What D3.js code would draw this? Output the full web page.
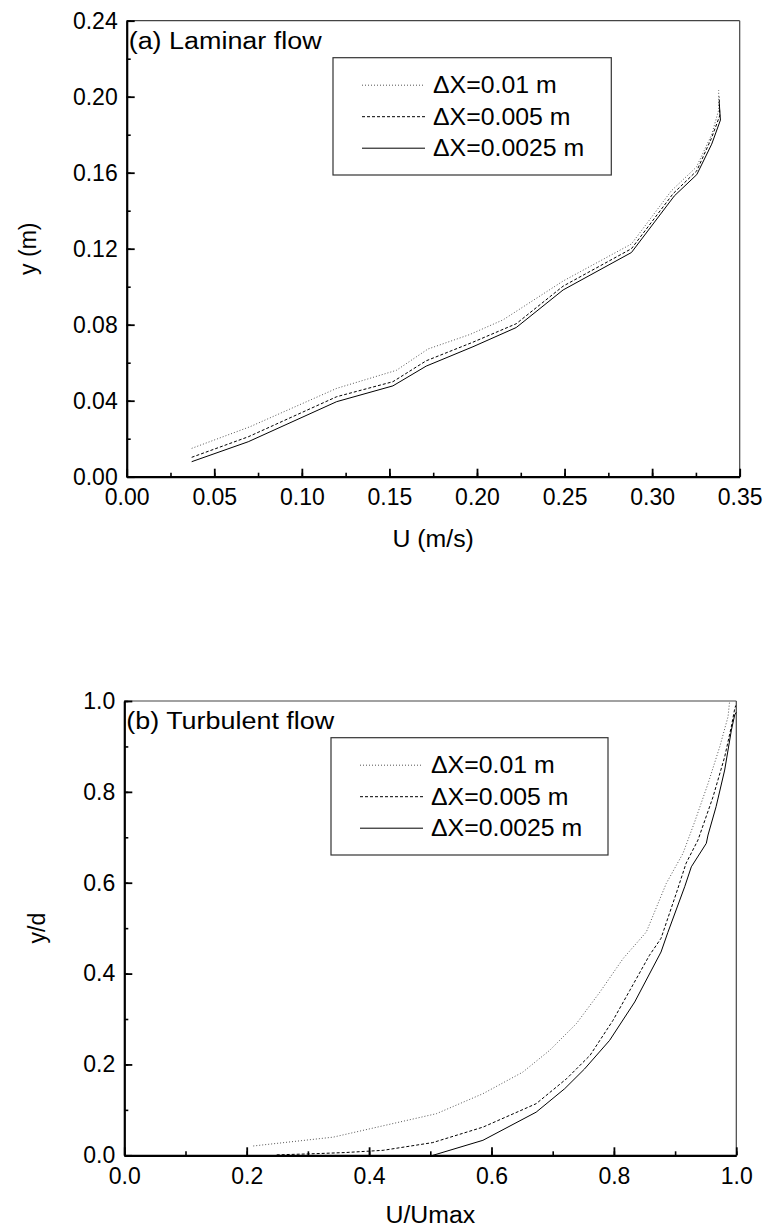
<!DOCTYPE html>
<html><head><meta charset="utf-8">
<script src="https://cdn.jsdelivr.net/npm/d3@7"></script>
<style>
body{margin:0;background:#fff}
svg{display:block}
text{font-family:"Liberation Sans",Arial,Helvetica,sans-serif;fill:#000}
</style>
</head><body>
<svg id="c" width="766" height="1232"></svg>
<script>
// ---------- data ----------
const seriesNames = ["\u0394X=0.01 m", "\u0394X=0.005 m", "\u0394X=0.0025 m"];

// (a) Laminar flow: U (m/s) vs y (m)
const lamU_01   = [0.0371,0.0704,0.1199,0.1540,0.1720,0.1958,0.2148,0.2492,0.2882,0.3110,0.3253,0.3340,0.3380,0.3380];
const lamY_01   = [0.0149,0.0263,0.0465,0.0560,0.0672,0.0748,0.0825,0.1030,0.1225,0.1505,0.1630,0.1800,0.1930,0.2035];
const lamU_005  = [0.0371,0.0694,0.1199,0.1520,0.1710,0.1977,0.2224,0.2492,0.2882,0.3120,0.3255,0.3338,0.3386,0.3383];
const lamY_005  = [0.0102,0.0210,0.0421,0.0500,0.0610,0.0708,0.0805,0.1003,0.1200,0.1490,0.1610,0.1780,0.1900,0.2000];
const lamU_0025 = [0.0371,0.0694,0.1199,0.1520,0.1710,0.1977,0.2224,0.2492,0.2882,0.3127,0.3255,0.3340,0.3390,0.3383];
const lamY_0025 = [0.0079,0.0184,0.0395,0.0478,0.0582,0.0684,0.0785,0.0983,0.1180,0.1478,0.1590,0.1750,0.1877,0.1970];

// (b) Turbulent flow: U/Umax vs y/d
const turU_01   = [0.2107,0.3415,0.423,0.510,0.586,0.651,0.695,0.7386,0.777,0.815,0.853,0.8856,0.913,0.932,0.954,0.973,0.9865,0.989];
const turY_01   = [0.0205,0.040,0.065,0.0916,0.1356,0.183,0.231,0.2897,0.359,0.433,0.4916,0.5985,0.665,0.734,0.819,0.8995,0.9655,0.9985];
const turU_005  = [0.249,0.300,0.360,0.423,0.504,0.586,0.673,0.723,0.761,0.7985,0.826,0.858,0.877,0.902,0.918,0.9374,0.962,0.981,0.9918,0.997,0.999];
const turY_005  = [0.001,0.003,0.006,0.011,0.028,0.062,0.1136,0.169,0.220,0.297,0.363,0.440,0.4776,0.577,0.643,0.694,0.789,0.877,0.943,0.980,0.990];
const turU_0025 = [0.5044,0.586,0.673,0.7196,0.752,0.793,0.834,0.877,0.888,0.9157,0.9265,0.951,0.9538,0.967,0.981,0.992,0.9974,1.000];
const turY_0025 = [0.000,0.033,0.095,0.1466,0.190,0.253,0.3375,0.4475,0.490,0.5913,0.635,0.6867,0.705,0.7675,0.848,0.936,0.9695,0.975];

// axis ticks
const lamXTicks = [0,0.05,0.10,0.15,0.20,0.25,0.30,0.35];
const lamYTicks = [0,0.04,0.08,0.12,0.16,0.20,0.24];
const turXTicks = [0,0.2,0.4,0.6,0.8,1.0];
const turYTicks = [0,0.2,0.4,0.6,0.8,1.0];

// ---------- drawing ----------
const svg = d3.select("#c");
const FS_TICK = 23, FS_LAB = 23, FS_LEG = 23, FS_TITLE = 23;
const styles = [
  {stroke:"#555", dash:"1,2", width:1},
  {stroke:"#000", dash:"3,2", width:1},
  {stroke:"#000", dash:null, width:1}
];

function zip(u, y){ return u.map((v,i)=>({u:v, y:y[i]})); }
// widen text horizontally by factor sx (reference glyphs are slightly wider)
function widen(sel, sx){
  sel.each(function(){
    const w = this.getComputedTextLength();
    d3.select(this).attr("textLength", w*sx).attr("lengthAdjust","spacingAndGlyphs");
  });
}

function panel(cfg){
  const g = svg.append("g");
  const x = d3.scaleLinear().domain(cfg.xDomain).range([cfg.left, cfg.right]);
  const y = d3.scaleLinear().domain(cfg.yDomain).range([cfg.bottom, cfg.top]);

  // frame top/right
  g.append("line").attr("x1",cfg.left).attr("x2",cfg.right).attr("y1",cfg.top).attr("y2",cfg.top)
    .attr("stroke","#444").attr("stroke-width",1.2);
  g.append("line").attr("x1",cfg.right).attr("x2",cfg.right).attr("y1",cfg.top).attr("y2",cfg.bottom)
    .attr("stroke","#444").attr("stroke-width",1.2);

  // minor ticks
  const xMinor = d3.range(cfg.xDomain[0], cfg.xDomain[1]+1e-9, cfg.xMinorStep);
  const yMinor = d3.range(cfg.yDomain[0], cfg.yDomain[1]+1e-9, cfg.yMinorStep);
  g.append("g").attr("transform",`translate(0,${cfg.bottom})`)
    .call(d3.axisBottom(x).tickValues(xMinor).tickSize(-4).tickSizeOuter(0).tickFormat(""))
    .call(s=>s.select(".domain").remove())
    .call(s=>s.selectAll("line").attr("stroke-width",1.6));
  g.append("g").attr("transform",`translate(${cfg.left},0)`)
    .call(d3.axisLeft(y).tickValues(yMinor).tickSize(-4).tickSizeOuter(0).tickFormat(""))
    .call(s=>s.select(".domain").remove())
    .call(s=>s.selectAll("line").attr("stroke-width",1.6));

  // major axes
  const xa = g.append("g").attr("transform",`translate(0,${cfg.bottom})`)
    .call(d3.axisBottom(x).tickValues(cfg.xTicks).tickSize(-8).tickSizeOuter(0).tickPadding(12).tickFormat(d3.format(cfg.xFmt)));
  const ya = g.append("g").attr("transform",`translate(${cfg.left},0)`)
    .call(d3.axisLeft(y).tickValues(cfg.yTicks).tickSize(-8).tickSizeOuter(0).tickPadding(9).tickFormat(d3.format(cfg.yFmt)));
  [xa,ya].forEach(a=>{
    a.select(".domain").attr("stroke-width",2.2);
    a.selectAll(".tick line").attr("stroke-width",1.8);
    a.selectAll("text").attr("font-size",FS_TICK).attr("font-family","Liberation Sans, Arial, sans-serif").attr("fill","#000");
  });

  // curves
  const line = d3.line().x(d=>x(d.u)).y(d=>y(d.y));
  cfg.series.forEach((s,i)=>{
    g.append("path").datum(s).attr("d",line).attr("fill","none")
      .attr("stroke",styles[i].stroke).attr("stroke-width",styles[i].width)
      .attr("stroke-dasharray",styles[i].dash);
  });

  // title
  g.append("text").attr("x",cfg.left+2).attr("y",cfg.titleY).attr("font-size",FS_TITLE).text(cfg.title)
    .call(widen, 1.17);

  // axis labels
  g.append("text").attr("x",(cfg.left+cfg.right)/2).attr("y",cfg.xLabelY).attr("text-anchor","middle")
    .attr("font-size",FS_LAB).text(cfg.xLabel).call(widen, 1.08);
  g.append("text").attr("transform",`translate(${cfg.yLabelX},${(cfg.top+cfg.bottom)/2}) rotate(-90)`)
    .attr("text-anchor","middle").attr("font-size",FS_LAB).text(cfg.yLabel);

  // legend
  const L = cfg.legend;
  g.append("rect").attr("x",L.x).attr("y",L.y).attr("width",L.w).attr("height",L.h)
    .attr("fill","#fff").attr("stroke","#333").attr("stroke-width",1.2);
  const rows = [27.5, 59, 90.5];
  seriesNames.forEach((n,i)=>{
    const yy = L.y + rows[i];
    g.append("line").attr("x1",L.x+29).attr("x2",L.x+92).attr("y1",yy).attr("y2",yy)
      .attr("stroke",styles[i].stroke).attr("stroke-width",styles[i].width).attr("stroke-dasharray",styles[i].dash);
    g.append("text").attr("x",L.x+100).attr("y",yy).attr("dy","0.36em").attr("font-size",FS_LEG).text(n)
      .call(widen, 1.08);
  });
}

panel({
  left:126.7, right:739.7, top:20.7, bottom:476.7,
  xDomain:[0,0.35], yDomain:[0,0.24], xMinorStep:0.025, yMinorStep:0.02,
  xTicks:lamXTicks, yTicks:lamYTicks, xFmt:".2f", yFmt:".2f",
  series:[zip(lamU_01,lamY_01), zip(lamU_005,lamY_005), zip(lamU_0025,lamY_0025)],
  title:"(a) Laminar flow", titleY:49,
  xLabel:"U (m/s)", xLabelY:547, yLabel:"y (m)", yLabelX:36,
  legend:{x:333, y:57.7, w:278.3, h:117.3}
});

panel({
  left:124.3, right:736.3, top:701, bottom:1155.3,
  xDomain:[0,1], yDomain:[0,1], xMinorStep:0.1, yMinorStep:0.1,
  xTicks:turXTicks, yTicks:turYTicks, xFmt:".1f", yFmt:".1f",
  series:[zip(turU_01,turY_01), zip(turU_005,turY_005), zip(turU_0025,turY_0025)],
  title:"(b) Turbulent flow", titleY:729,
  xLabel:"U/Umax", xLabelY:1223, yLabel:"y/d", yLabelX:45,
  legend:{x:331, y:737.7, w:277, h:117.3}
});
</script>
</body></html>
